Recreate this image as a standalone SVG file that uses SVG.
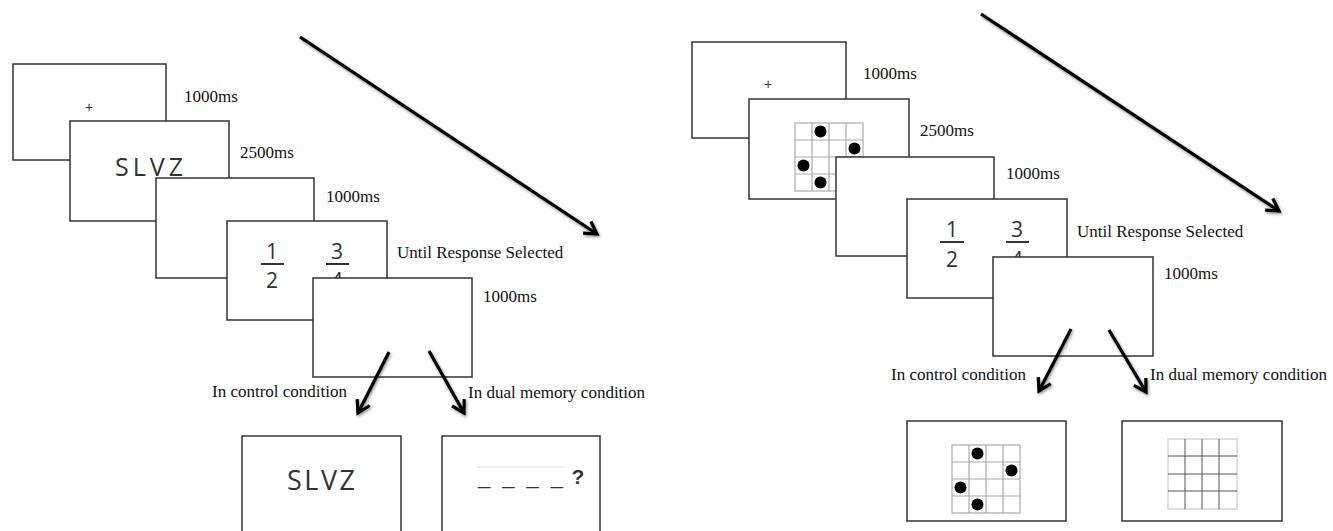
<svg xmlns="http://www.w3.org/2000/svg" width="1333" height="531" viewBox="0 0 1333 531">
<style>
.box{fill:#fff;stroke:#333;stroke-width:1.5}
.lbl{font-family:"Liberation Serif","Times New Roman",serif;font-size:17px;fill:#111}
.sans{font-family:"Open Sans","DejaVu Sans",sans-serif;fill:#333}
.plus{font-family:"Liberation Sans",Arial,sans-serif;font-size:14px;fill:#333;text-anchor:middle}
.num{font-family:"Open Sans","DejaVu Sans",sans-serif;font-size:21px;fill:#333;text-anchor:middle}
.bar{stroke:#333;stroke-width:2}
.grid{fill:none;stroke:#aaa;stroke-width:1.2}
.dot{fill:#000}
.arr{fill:none;stroke:#000;stroke-width:3.2;filter:url(#sh);marker-end:url(#ah)}
</style>
<defs>
<filter id="sh" x="-20%" y="-20%" width="140%" height="140%">
<feDropShadow dx="1" dy="1.5" stdDeviation="1.5" flood-color="#000" flood-opacity="0.45"/>
</filter>
<marker id="ah" viewBox="-16 -10 20 20" refX="0" refY="0" markerWidth="20" markerHeight="20" markerUnits="userSpaceOnUse" orient="auto">
<path d="M-12,-7 L0,0 L-12,7" fill="none" stroke="#000" stroke-width="3.2" stroke-linejoin="miter"/>
</marker>
</defs>
<rect width="1333" height="531" fill="#fff"/>

<!-- LEFT PANEL -->
<g id="L1">
<rect class="box" x="13" y="64" width="153" height="96"/>
<text class="plus" x="89" y="112">+</text>
<text class="lbl" x="184" y="102">1000ms</text>
</g>
<g id="L2">
<rect class="box" x="70" y="121" width="159" height="100"/>
<text class="sans" x="149" y="176" font-size="25" text-anchor="middle" textLength="68" lengthAdjust="spacing">S L V Z</text>
<text class="lbl" x="240" y="158">2500ms</text>
</g>
<g id="L3">
<rect class="box" x="156" y="178" width="158" height="100"/>
<text class="lbl" x="326" y="202">1000ms</text>
</g>
<g id="L4">
<rect class="box" x="227" y="221" width="160" height="99"/>
<text class="num" x="272" y="259">1</text>
<line class="bar" x1="261" y1="264" x2="284" y2="264"/>
<text class="num" x="272" y="288">2</text>
<text class="num" x="337" y="259">3</text>
<line class="bar" x1="326" y1="264" x2="349" y2="264"/>
<text class="num" x="337" y="288">4</text>
<text class="lbl" x="397" y="258">Until Response Selected</text>
</g>
<g id="L5">
<rect class="box" x="313" y="278" width="159" height="99"/>
<text class="lbl" x="483" y="302">1000ms</text>
</g>
<g id="L6">
<text class="lbl" x="212" y="397">In control condition</text>
<text class="lbl" x="468" y="398">In dual memory condition</text>
</g>
<g id="L7">
<rect class="box" x="242" y="436" width="159" height="100"/>
<text class="sans" x="321" y="490" font-size="27" text-anchor="middle" textLength="68" lengthAdjust="spacing">S L V Z</text>
</g>
<g id="L8">
<rect class="box" x="442" y="436" width="158" height="100"/>
<line x1="477" y1="467" x2="565" y2="467" stroke="#ddd" stroke-width="1"/>
<text x="478" y="484" font-family="'Liberation Sans',Arial,sans-serif" font-size="22" fill="#333" textLength="85" lengthAdjust="spacing">_ _ _ _</text>
<text x="578" y="484" font-family="'Liberation Sans',Arial,sans-serif" font-size="21" font-weight="bold" fill="#333" text-anchor="middle">?</text>
</g>

<!-- RIGHT PANEL -->
<g id="R1">
<rect class="box" x="692" y="42" width="154" height="96"/>
<text class="plus" x="768" y="89">+</text>
<text class="lbl" x="863" y="79">1000ms</text>
</g>
<g id="R2">
<rect class="box" x="749" y="99" width="160" height="100"/>
<g class="grid">
<rect x="795" y="123" width="68" height="68"/>
<path d="M812,123V191M829,123V191M846,123V191M795,140H863M795,157H863M795,174H863"/>
</g>
<circle class="dot" cx="820.5" cy="131.5" r="6"/>
<circle class="dot" cx="854.5" cy="148.5" r="6"/>
<circle class="dot" cx="803.5" cy="165.5" r="6"/>
<circle class="dot" cx="820.5" cy="182.5" r="6"/>
<text class="lbl" x="920" y="136">2500ms</text>
</g>
<g id="R3">
<rect class="box" x="836" y="157" width="158" height="99"/>
<text class="lbl" x="1006" y="179">1000ms</text>
</g>
<g id="R4">
<rect class="box" x="907" y="199" width="160" height="99"/>
<text class="num" x="952" y="237">1</text>
<line class="bar" x1="940" y1="242" x2="964" y2="242"/>
<text class="num" x="952" y="267">2</text>
<text class="num" x="1017" y="237">3</text>
<line class="bar" x1="1006" y1="242" x2="1029" y2="242"/>
<text class="num" x="1017" y="267">4</text>
<text class="lbl" x="1077" y="237">Until Response Selected</text>
</g>
<g id="R5">
<rect class="box" x="993" y="257" width="160" height="99"/>
<text class="lbl" x="1164" y="279">1000ms</text>
</g>
<g id="R6">
<text class="lbl" x="891" y="380">In control condition</text>
<text class="lbl" x="1150" y="380">In dual memory condition</text>
</g>
<g id="R7">
<rect class="box" x="907" y="421" width="159" height="100"/>
<g class="grid">
<rect x="952" y="445" width="68" height="68"/>
<path d="M969,445V513M986,445V513M1003,445V513M952,462H1020M952,479H1020M952,496H1020"/>
</g>
<circle class="dot" cx="977.5" cy="453.5" r="6"/>
<circle class="dot" cx="1011.5" cy="470.5" r="6"/>
<circle class="dot" cx="960.5" cy="487.5" r="6"/>
<circle class="dot" cx="977.5" cy="504.5" r="6"/>
</g>
<g id="R8">
<rect class="box" x="1122" y="421" width="160" height="100"/>
<rect x="1168" y="439" width="69" height="70" fill="none" stroke="#ccc" stroke-width="1.2"/>
<path d="M1185,439V509M1202,439V509M1219,439V509M1168,456H1237M1168,474H1237M1168,491H1237" fill="none" stroke="#555" stroke-width="1"/>
</g>

<!-- CONNECTORS -->
<g id="connectors">
<line class="arr" x1="300" y1="37" x2="597" y2="234"/>
<line class="arr" x1="389" y1="352" x2="358" y2="413"/>
<line class="arr" x1="429" y1="351" x2="464" y2="413"/>
<line class="arr" x1="981" y1="14" x2="1279" y2="211"/>
<line class="arr" x1="1071" y1="329" x2="1039" y2="391"/>
<line class="arr" x1="1109" y1="330" x2="1146" y2="392"/>
</g>
</svg>
